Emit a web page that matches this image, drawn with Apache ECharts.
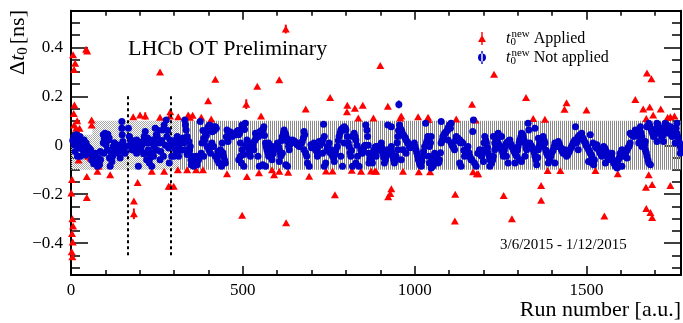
<!DOCTYPE html>
<html><head><meta charset="utf-8">
<script src="https://cdn.jsdelivr.net/npm/echarts@6/dist/echarts.min.js"></script>
<style>html,body{margin:0;padding:0;background:#fff}#c{width:683px;height:323px}</style>
</head><body><div id="c"></div>
<script>
// ---- axis ticks ----
const xMajor = [0, 500, 1000, 1500];
const xMinor = [100, 200, 300, 400, 600, 700, 800, 900, 1100, 1200, 1300, 1400, 1600, 1700];
const yMajor = [-0.4, -0.2, 0, 0.2, 0.4];
const yMinor = [-0.5, -0.45, -0.35, -0.3, -0.25, -0.15, -0.1, -0.05, 0.05, 0.1, 0.15, 0.25, 0.3, 0.35, 0.45, 0.5];
const xMin = 0, xMax = 1775, yMin = -0.53, yMax = 0.55;

// ---- tolerance band ----
const bandStart = [0, 62, 315];
const bandEnd = [62, 315, 1775];
const bandLow = [-0.1, -0.1, -0.1];
const bandHigh = [0.043, 0.1, 0.1];
const bandFill = ['dots', 'dots', 'stripes'];

// ---- dashed vertical markers ----
const markerRuns = [166, 290];
const markerTop = 0.2, markerBottom = -0.456;

// ---- t0 new applied (red triangles) ----
const applied = [
[6,0.37],[12,0.335],[9,0.31],[44,0.392],[47,0.385],
[10,0.165],[8,0.13],[18,0.10],[9,0.083],[15,0.07],[25,0.07],[60,0.103],[60,0.083],
[50,-0.045],[57,-0.052],[22,-0.06],[77,-0.106],[80,-0.086],[114,-0.12],
[3,-0.14],[1,-0.195],[46,-0.127],[46,-0.213],
[4,-0.30],[6,-0.33],[3,-0.36],[5,-0.395],[2,-0.435],[4,-0.455],
[181,0.117],[201,0.124],[216,0.12],[194,-0.152],[183,-0.228],[183,-0.28],[259,0.30],[259,0.115],[235,-0.106],[271,-0.106],[288,0.12],[289,0.137],[284,-0.167],[289,-0.167],
[312,0.117],[341,0.124],[354,0.123],[346,0.115],[379,0.115],[408,0.107],[420,0.27],[399,0.182],[510,0.168],[542,0.241],[553,0.12],[302,-0.04],[311,-0.10],[338,-0.10],[364,-0.10],[384,-0.10],[454,-0.116],[512,-0.128],[547,-0.112],[585,-0.10],[299,-0.167],[498,-0.286],
[625,0.475],[606,0.268],[683,0.148],[754,0.195],[804,0.164],[803,0.137],[826,0.151],[849,0.164],[836,0.112],[880,0.112],[591,-0.12],[606,-0.106],[632,-0.11],[693,-0.126],[742,-0.105],[761,-0.105],[817,-0.102],[844,-0.106],[873,-0.105],[884,-0.105],[768,-0.202],[626,-0.316],
[900,0.326],[922,0.16],[961,0.12],[958,0.112],[1010,0.117],[1039,0.115],[1040,0.105],[1121,0.107],[1167,0.168],[1177,0.103],[888,-0.106],[966,-0.106],[1012,-0.108],[1045,-0.108],[1170,-0.108],[1181,-0.116],[932,-0.178],[929,-0.197],[923,-0.21],[1118,-0.20],[1117,-0.309],
[1231,0.29],[1324,0.195],[1442,0.174],[1436,0.147],[1345,0.11],[1379,0.106],[1185,-0.116],[1387,-0.103],[1424,-0.103],[1368,-0.164],[1259,-0.205],[1368,-0.225],[1283,-0.30],
[1500,0.144],[1642,0.187],[1665,0.148],[1684,0.157],[1694,0.124],[1716,0.148],[1674,0.11],[1736,0.114],[1744,0.117],[1756,0.12],[1676,0.295],[1689,0.272],[1526,-0.103],[1591,-0.116],[1681,-0.12],[1673,-0.171],[1691,-0.16],[1744,-0.164],[1552,-0.289],[1674,-0.258],[1686,-0.275],[1691,-0.295]
];
const appliedErr = [[216,0.12,0.015],[183,-0.28,0.022],[510,0.168,0.02],[625,0.475,0.018]];

// ---- t0 new not applied (blue dots) ----
const notApplied = [
[9,0.036],[15,0.043],[21,0.029],[26,0.036],[31,0.016],[38,0.022],[44,0.009],[48,-0.005],[17,0.002],[24,-0.011],[12,-0.025],[19,-0.045],[34,-0.018],[41,-0.025],[50,-0.032],[9,0.002],[53,-0.011],[28,-0.045],
[57,-0.018],[63,-0.045],[67,-0.059],[73,-0.072],[77,-0.086],[83,-0.079],[80,-0.052],[86,-0.059],[70,-0.032],[85,-0.025],
[94,0.043],[99,0.049],[104,0.036],[109,0.022],[94,0.009],[102,0.002],[96,-0.032],[106,-0.018],[112,-0.052],[114,-0.086],[119,-0.066],
[123,-0.005],[128,-0.018],[133,0.002],[138,-0.011],[143,-0.025],[148,0.097],[148,0.070],[149,0.043],[151,0.016],[153,-0.018],[157,-0.032],[160,-0.005],[143,-0.052],
[167,0.070],[170,0.036],[174,0.016],[180,-0.005],[186,0.009],[191,0.022],[196,-0.086],[191,-0.032],[177,-0.018],
[203,-0.018],[209,0.016],[213,0.036],[216,0.056],[220,0.009],[225,-0.018],[230,-0.052],[235,-0.086],[240,-0.045],[242,-0.005],[248,0.043],[245,0.070],[238,0.022],[220,-0.059],[228,-0.072],
[251,0.036],[257,0.009],[261,-0.025],[267,0.063],[271,0.083],[277,0.103],[279,0.036],[284,-0.011],[288,0.022],[293,-0.045],[286,-0.072],[269,-0.045],[259,-0.059],
[299,0.009],[304,-0.018],[309,0.036],[313,-0.005],[318,0.022],[299,-0.045],[313,-0.045],[331,0.103],[333,0.083],[335,0.063],[338,0.036],[328,0.009],[333,-0.018],[338,-0.038],
[343,0.016],[347,-0.005],[352,-0.045],[354,-0.066],[357,-0.086],[350,-0.079],[362,-0.059],[367,-0.079],
[376,0.097],[381,0.009],[386,0.029],[391,0.049],[396,0.063],[399,0.076],[403,0.083],[409,0.070],[415,0.076],[420,0.076],[379,-0.032],[386,-0.045],[396,-0.005],[401,-0.018],[406,-0.032],
[410,0.009],[415,-0.005],[420,-0.045],[425,-0.059],[430,-0.072],[435,-0.018],[440,0.009],[444,-0.045],[449,-0.072],[428,-0.025],[438,-0.086],
[454,0.063],[459,0.049],[464,0.043],[469,0.036],[474,0.049],[478,0.049],[483,0.056],[488,0.043],[493,0.063],[498,0.083],[503,0.083],[507,0.090],[457,0.016],
[493,0.009],[498,-0.018],[503,-0.038],[507,-0.005],[512,0.022],[517,-0.018],[522,-0.045],[527,0.009],[532,-0.018],[488,-0.059],[496,-0.072],[503,-0.086],[493,-0.045],
[537,0.049],[541,0.043],[546,0.036],[551,0.046],[556,0.063],[561,0.076],[566,0.009],[570,-0.018],[575,-0.045],[580,-0.032],[585,-0.005],[590,-0.018],[544,-0.045],[548,-0.086],[558,-0.079],[566,-0.086],[575,0.009],[585,-0.059],
[596,-0.005],[601,0.009],[606,-0.018],[610,-0.045],[615,0.036],[620,0.063],[625,0.043],[630,0.016],[635,0.009],[606,-0.066],[625,-0.079],[630,-0.086],[615,-0.032],[635,-0.018],
[644,0.022],[649,0.016],[654,0.009],[659,0.002],[664,-0.005],[669,0.009],[673,0.016],[678,0.056],[680,0.043],[683,-0.032],[686,-0.045],[688,-0.072],[693,-0.086],[678,-0.018],
[698,0.002],[703,-0.005],[707,0.009],[712,-0.018],[717,-0.011],[722,0.016],[727,0.009],[732,0.022],[735,0.086],[737,0.036],[741,-0.072],[737,-0.086],[732,-0.032],[717,-0.045],
[746,-0.005],[751,0.009],[756,-0.018],[761,-0.045],[766,-0.066],[771,-0.018],[775,-0.005],[780,0.036],[785,0.063],[790,0.070],[795,0.076],[800,0.063],[790,-0.086],[785,-0.045],[795,0.009],
[804,0.036],[809,-0.005],[814,-0.045],[819,0.036],[824,0.049],[829,0.022],[834,-0.045],[838,-0.086],[829,-0.072],[819,-0.086],
[843,-0.018],[848,-0.032],[853,-0.005],[858,0.083],[861,0.063],[863,0.036],[867,-0.032],[872,-0.045],[877,-0.072],[882,-0.018],[887,-0.005],[867,-0.072],
[893,-0.005],[898,-0.018],[903,0.009],[907,-0.032],[912,-0.072],[917,-0.045],[922,-0.018],[927,-0.032],[932,-0.005],[936,-0.045],[941,-0.072],[922,0.083],[932,0.076],[888,-0.045],
[946,-0.045],[951,0.036],[954,0.167],[956,0.083],[961,0.063],[966,0.043],[970,0.036],[975,0.022],[980,0.009],[985,-0.005],[966,-0.018],[951,-0.018],[961,-0.059],[975,-0.032],
[999,0.009],[1004,-0.018],[1009,-0.045],[1014,-0.072],[1019,-0.086],[1024,-0.045],[1029,-0.005],[1034,0.009],[1038,0.036],[1043,-0.005],[1032,0.090],[1048,0.036],[1041,-0.045],[1043,-0.072],[1053,-0.086],[1048,-0.093],
[1058,-0.032],[1063,-0.045],[1068,-0.072],[1072,-0.059],[1077,0.009],[1082,0.036],[1087,0.049],[1092,0.056],[1097,0.070],[1101,0.083],[1106,0.090],[1077,0.097],[1097,0.022],
[1106,0.009],[1111,-0.005],[1116,-0.018],[1121,0.036],[1126,0.029],[1131,0.022],[1135,0.016],[1140,0.009],[1131,-0.072],[1135,-0.086],[1145,-0.045],
[1150,-0.018],[1155,-0.005],[1160,-0.045],[1164,-0.059],[1169,0.056],[1171,0.103],[1174,-0.072],[1179,-0.086],[1184,-0.032],[1189,-0.018],
[1190,-0.032],[1195,-0.045],[1200,-0.018],[1204,0.036],[1209,0.009],[1214,-0.032],[1219,-0.059],[1224,-0.072],[1229,-0.045],[1233,-0.018],[1200,-0.066],[1219,-0.086],[1229,0.036],[1243,0.049],[1233,0.009],
[1243,0.009],[1248,-0.005],[1253,-0.018],[1258,-0.045],[1263,-0.005],[1267,0.009],[1272,0.016],[1277,0.022],[1282,-0.005],[1253,0.036],[1272,-0.072],[1267,-0.045],
[1287,-0.018],[1292,-0.032],[1297,-0.045],[1301,-0.005],[1306,0.022],[1311,0.049],[1316,0.036],[1321,0.009],[1326,-0.018],[1330,-0.005],[1306,-0.059],[1311,-0.066],[1321,-0.045],[1330,0.090],[1332,0.063],[1292,-0.072],
[1335,0.009],[1340,-0.005],[1345,-0.018],[1350,-0.045],[1355,-0.079],[1360,-0.018],[1364,0.009],[1369,0.022],[1374,0.036],[1379,0.009],[1350,0.070],[1360,0.029],[1374,-0.005],
[1384,-0.032],[1389,-0.045],[1394,-0.059],[1398,-0.032],[1403,-0.018],[1408,0.009],[1413,-0.005],[1418,0.016],[1423,-0.005],[1427,-0.018],[1389,-0.072],[1408,-0.072],
[1432,-0.032],[1437,-0.018],[1442,-0.045],[1447,-0.032],[1452,-0.018],[1457,-0.005],[1461,0.009],[1466,0.022],[1468,0.076],[1471,0.009],[1476,0.036],[1481,0.043],[1486,0.049],[1476,-0.018],
[1487,0.036],[1492,0.022],[1497,0.009],[1501,-0.005],[1506,-0.018],[1511,-0.032],[1516,-0.045],[1511,0.043],[1516,-0.072],[1521,-0.079],[1506,-0.066],[1519,0.009],[1526,-0.005],[1530,0.002],
[1535,-0.018],[1540,-0.032],[1545,-0.045],[1550,-0.005],[1555,-0.018],[1560,-0.032],[1564,-0.059],[1569,-0.045],[1574,-0.052],[1579,-0.072],[1584,-0.086],[1589,-0.093],[1555,-0.072],[1574,-0.032],
[1593,-0.059],[1598,-0.032],[1603,-0.018],[1608,-0.045],[1613,-0.032],[1618,-0.018],[1623,-0.005],[1627,0.009],[1589,-0.072],[1603,-0.086],[1618,-0.052],
[1627,0.049],[1632,0.043],[1637,0.036],[1642,0.063],[1647,0.049],[1652,0.036],[1657,0.076],[1661,0.036],[1666,0.009],[1671,-0.018],[1676,-0.045],[1681,-0.072],[1686,-0.079],[1676,0.076],[1681,0.090],[1661,-0.005],[1671,0.016],[1652,0.009],
[1690,0.056],[1695,0.036],[1700,0.049],[1705,0.090],[1710,0.076],[1715,0.063],[1719,0.036],[1724,0.049],[1729,0.090],[1734,0.083],[1705,0.016],[1724,0.016],[1739,0.049],
[1744,0.076],[1749,0.036],[1754,0.063],[1758,0.009],[1763,0.049],[1768,0.022],[1773,-0.005],[1773,-0.032],[1775,-0.018],[1763,0.090]
];
// denser clusters
const notAppliedDense = [
[5,0.02],[13,0.015],[29,0.0],[36,-0.01],[42,-0.04],[55,-0.03],[60,-0.06],[66,-0.075],[71,-0.062],[76,-0.07],
[97,0.025],[101,0.02],[107,0.045],[111,0.03],[117,-0.03],[121,-0.045],[126,0.01],[131,-0.03],[136,-0.005],[141,0.0],[146,-0.015],
[172,0.0],[178,0.02],[183,-0.02],[188,-0.01],[194,0.005],[199,-0.005],[206,0.0],[211,-0.035],[218,-0.03],[223,0.03],[232,0.01],[236,-0.03],[244,0.01],[250,-0.02],[254,0.06],[264,0.02],[274,0.0],[281,0.06],[291,0.0],
[302,0.02],[307,-0.03],[316,0.01],[321,-0.02],[326,0.03],[345,-0.02],[349,-0.06],[359,-0.07],[365,-0.045],[371,-0.06],
[384,0.06],[389,0.02],[394,0.04],[404,0.06],[411,0.055],[417,0.06],[423,0.07],[433,-0.04],[442,-0.03],[447,-0.06],[452,0.035],[462,0.055],[467,0.05],[472,0.04],[481,0.045],[486,0.06],[491,0.05],[500,0.07],[505,0.065],
[510,0.0],[515,0.005],[520,-0.03],[525,-0.01],[530,0.0],[535,0.02],[539,0.03],[549,0.055],[553,0.05],[559,0.065],[563,0.04],[568,-0.005],[573,-0.03],[578,-0.02],[583,-0.045],[588,-0.035],
[599,0.0],[604,-0.005],[609,-0.03],[613,0.02],[618,0.05],[623,0.05],[628,0.03],[633,-0.005],[638,0.005],[642,0.01],[647,0.02],[652,0.015],[657,0.005],[662,0.0],[667,0.0],[671,0.01],[676,0.03],
[700,-0.01],[705,0.0],[710,-0.005],[715,-0.025],[720,0.005],[725,0.0],[730,0.01],[744,-0.02],[749,-0.01],[754,-0.03],[759,-0.03],[764,-0.05],[769,-0.035],[778,0.02],[783,0.05],[788,0.06],[793,0.065],[798,0.07],
[807,0.01],[812,-0.03],[816,-0.02],[822,0.04],[827,0.035],[832,0.0],[845,-0.025],[851,-0.02],[856,0.0],[865,0.0],[870,-0.055],[875,-0.06],[880,-0.03],[885,-0.01],
[890,-0.02],[895,-0.01],[900,0.0],[905,-0.01],[910,-0.05],[915,-0.06],[920,-0.03],[925,-0.02],[930,-0.02],[934,-0.03],[939,-0.06],[944,-0.06],
[949,0.01],[953,0.06],[958,0.07],[963,0.055],[968,0.04],[973,0.03],[978,0.015],[983,0.0],[987,-0.01],[992,0.0],[996,-0.005],[1001,-0.005],[1006,-0.03],[1011,-0.06],[1016,-0.08],[1021,-0.065],[1026,-0.025],[1036,0.02],[1046,0.01],[1051,-0.06],
[1055,-0.05],[1060,-0.04],[1066,-0.06],[1070,-0.07],[1075,-0.03],[1080,0.02],[1085,0.04],[1090,0.05],[1095,0.06],[1099,0.075],[1104,0.07],[1109,0.0],[1114,-0.01],[1119,0.02],[1124,0.03],[1129,0.02],[1133,0.01],[1138,0.01],[1143,-0.02],[1148,-0.03],[1153,-0.01],[1158,-0.03],[1162,-0.05],[1167,-0.06],
[1192,-0.04],[1197,-0.03],[1202,0.01],[1207,0.02],[1212,-0.01],[1217,-0.045],[1222,-0.065],[1227,-0.06],[1236,-0.01],[1241,0.03],[1246,0.0],[1251,-0.01],[1256,-0.03],[1261,-0.02],[1265,0.0],[1270,0.01],[1275,0.02],[1280,0.005],[1285,-0.01],[1290,-0.025],[1295,-0.04],[1299,-0.02],
[1304,0.01],[1309,0.035],[1314,0.045],[1319,0.02],[1324,-0.01],[1328,-0.01],[1338,0.0],[1343,-0.01],[1348,-0.03],[1353,-0.06],[1358,-0.05],[1362,-0.005],[1367,0.015],[1372,0.03],[1377,0.02],[1382,-0.02],[1387,-0.04],[1392,-0.05],[1396,-0.045],[1401,-0.025],[1406,-0.005],[1411,0.0],[1416,0.005],[1421,0.005],[1425,-0.01],[1430,-0.025],[1435,-0.025],[1440,-0.035],[1445,-0.04],[1450,-0.025],[1455,-0.01],[1459,0.0],[1464,0.015],[1474,0.02],[1479,0.03],[1484,0.04],
[1489,0.03],[1494,0.015],[1499,0.0],[1504,-0.01],[1509,-0.025],[1514,-0.04],[1523,-0.06],[1528,-0.01],[1533,-0.01],[1538,-0.025],[1543,-0.04],[1548,-0.02],[1553,-0.01],[1558,-0.025],[1562,-0.045],[1567,-0.05],[1572,-0.045],[1577,-0.06],[1582,-0.075],[1587,-0.08],[1591,-0.085],[1596,-0.05],[1601,-0.03],[1606,-0.03],[1611,-0.04],[1616,-0.025],[1621,-0.01],[1625,0.0],
[1630,0.045],[1635,0.04],[1640,0.05],[1645,0.055],[1650,0.04],[1655,0.06],[1659,0.05],[1664,0.02],[1669,0.0],[1674,-0.03],[1679,-0.06],[1684,0.08],[1688,0.065],[1693,0.045],[1698,0.04],[1703,0.07],[1708,0.085],[1713,0.07],[1717,0.05],[1722,0.04],[1727,0.07],[1732,0.085],[1737,0.06],[1742,0.06],[1747,0.05],[1752,0.07],[1756,0.04],[1761,0.07],[1766,0.035],[1771,0.01]
];
const notAppliedErr = [[954,0.167,0.016],[735,0.086,0.01]];

// ---- styling ----
const SERIF = '"Liberation Serif", "Times New Roman", serif';
const RED = '#ff0000', BLUE = '#0000c8';

function makePattern(kind) {
  const c = document.createElement('canvas');
  const ctx = c.getContext('2d');
  if (kind === 'stripes') {
    c.width = 2; c.height = 1;
    ctx.fillStyle = '#8a8a8a';
    ctx.fillRect(0, 0, 1, 1);
  } else {
    c.width = 2; c.height = 2;
    ctx.fillStyle = '#a8a8a8';
    ctx.fillRect(0, 0, 1, 1);
    ctx.fillRect(1, 1, 1, 1);
  }
  return c;
}
const patterns = { stripes: makePattern('stripes'), dots: makePattern('dots') };

const bandData = bandStart.map((s, i) => [s, bandEnd[i], bandLow[i], bandHigh[i], i]);

const axisLineStyle = { show: true, onZero: false, lineStyle: { color: '#000', width: 2 } };
const noLine = { show: false, onZero: false };
const tickStyle = { color: '#000', width: 1.5 };

function xAx(pos, major, showLine) {
  return {
    type: 'value', min: xMin, max: xMax, position: pos,
    axisLine: showLine ? axisLineStyle : noLine,
    axisTick: { show: true, inside: true, length: major ? 9 : 5, customValues: major ? xMajor : xMinor, lineStyle: tickStyle },
    axisLabel: (pos === 'bottom' && major) ? { show: true, customValues: xMajor, color: '#000', fontFamily: SERIF, fontSize: 17, margin: 7, formatter: v => String(v) } : { show: false },
    splitLine: { show: false }
  };
}
function yAx(pos, major, showLine) {
  return {
    type: 'value', min: yMin, max: yMax, position: pos,
    axisLine: showLine ? axisLineStyle : noLine,
    axisTick: { show: true, inside: true, length: major ? 17 : 9, customValues: major ? yMajor : yMinor, lineStyle: tickStyle },
    axisLabel: (pos === 'left' && major) ? {
      show: true, customValues: yMajor, color: '#000', fontFamily: SERIF, fontSize: 17, margin: 8,
      formatter: v => v === 0 ? '0' : (v < 0 ? '\u2212' : '') + Math.abs(v).toFixed(1)
    } : { show: false },
    splitLine: { show: false }
  };
}

function errRender(color) {
  return function (params, api) {
    const x = api.value(0), y = api.value(1), e = api.value(2);
    const a = api.coord([x, y - e]), b = api.coord([x, y + e]);
    return { type: 'line', shape: { x1: a[0], y1: a[1], x2: b[0], y2: b[1] }, style: { stroke: color, lineWidth: 2 } };
  };
}

const legendRich = {
  i: { fontFamily: SERIF, fontStyle: 'italic', fontSize: 16, lineHeight: 19, verticalAlign: 'middle', color: '#000' },
  s: { fontFamily: SERIF, fontSize: 11, lineHeight: 11, verticalAlign: 'bottom', width: 1, color: '#000' },
  u: { fontFamily: SERIF, fontSize: 11, lineHeight: 11, verticalAlign: 'top', color: '#000' },
  n: { fontFamily: SERIF, fontSize: 16, lineHeight: 19, verticalAlign: 'middle', color: '#000' }
};

const chart = echarts.init(document.getElementById('c'), null, { renderer: 'canvas' });
chart.setOption({
  animation: false,
  backgroundColor: '#fff',
  grid: { left: 71, right: 2, top: 10.7, bottom: 48, containLabel: false },
  xAxis: [xAx('bottom', true, true), xAx('bottom', false, false), xAx('top', true, true), xAx('top', false, false)],
  yAxis: [yAx('left', true, true), yAx('left', false, false), yAx('right', true, true), yAx('right', false, false)],
  legend: {
    orient: 'vertical', left: 473, top: 24, itemWidth: 8, itemHeight: 13, itemGap: 0,
    selectedMode: false,
    data: [
      { name: 'Applied', icon: 'path://M3.3,0h1.4v13h-1.4z M0,10L4,3L8,10Z' },
      { name: 'Not applied', icon: 'path://M3.3,0h1.4v13h-1.4z M0,6.5a4,4 0 1,0 8,0a4,4 0 1,0 -8,0z' }
    ],
    formatter: name => '{i|t}{s|0}{u|new}{n| ' + name + '}',
    textStyle: { rich: legendRich, padding: [0, 0, 0, 15] }
  },
  graphic: [
    { type: 'text', x: 18, y: 10, rotation: Math.PI / 2, z: 100,
      style: { text: '{n|\u0394}{i|t}{s|0}{n|[ns]}', align: 'right', verticalAlign: 'middle',
        rich: {
          n: { fontFamily: SERIF, fontSize: 22, lineHeight: 26, verticalAlign: 'middle', fill: '#000' },
          i: { fontFamily: SERIF, fontSize: 22, fontStyle: 'italic', lineHeight: 26, verticalAlign: 'middle', fill: '#000' },
          s: { fontFamily: SERIF, fontSize: 15, lineHeight: 15, verticalAlign: 'bottom', fill: '#000', padding: [0, 3, 0, 0] }
        } } },
    { type: 'text', x: 128, y: 49, z: 100, style: { text: 'LHCb OT Preliminary', font: '22px ' + SERIF, fill: '#000', verticalAlign: 'middle' } },
    { type: 'text', x: 500, y: 245.5, z: 100, style: { text: '3/6/2015 - 1/12/2015', font: '15px ' + SERIF, fill: '#000', verticalAlign: 'middle' } },
    { type: 'text', x: 681, y: 310, z: 100, style: { text: 'Run number [a.u.]', font: '22px ' + SERIF, fill: '#000', align: 'right', verticalAlign: 'middle' } }
  ],
  series: [
    {
      type: 'custom', name: 'band', silent: true, z: 1, data: bandData, clip: true,
      renderItem: (params, api) => {
        const p0 = api.coord([api.value(0), api.value(3)]);
        const p1 = api.coord([api.value(1), api.value(2)]);
        const idx = api.value(4);
        return { type: 'rect', shape: { x: p0[0], y: p0[1], width: p1[0] - p0[0], height: p1[1] - p0[1] },
          style: { fill: { image: patterns[bandFill[idx]], repeat: 'repeat' } } };
      },
      markLine: {
        silent: true, symbol: 'none', label: { show: false },
        lineStyle: { color: '#000', width: 2, type: [3, 3] },
        data: markerRuns.map(r => [{ coord: [r, markerTop] }, { coord: [r, markerBottom] }])
      }
    },
    { type: 'custom', name: 'Applied err', silent: true, z: 2, data: appliedErr, renderItem: errRender(RED) },
    { type: 'scatter', name: 'Applied', data: applied, symbol: 'triangle', symbolSize: [8, 7], z: 3,
      itemStyle: { color: RED, opacity: 1 } },
    { type: 'custom', name: 'Not applied err', silent: true, z: 4, data: notAppliedErr, renderItem: errRender(BLUE) },
    { type: 'scatter', name: 'Not applied', data: notApplied.concat(notAppliedDense), symbol: 'circle', symbolSize: 7, z: 5,
      itemStyle: { color: BLUE, opacity: 1 } }
  ]
});
</script></body></html>
